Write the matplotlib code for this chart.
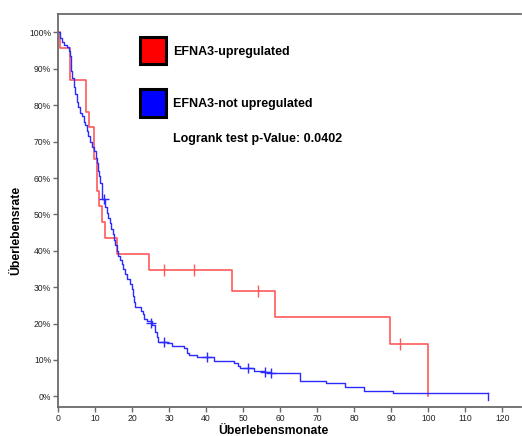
import matplotlib
matplotlib.use("Agg")
import matplotlib.pyplot as plt
from matplotlib.patches import Rectangle

# ---------------------------------------------------------------------------
# Data (months, survival in %)
# ---------------------------------------------------------------------------

# EFNA3-upregulated (red)
up_time = [0, 0.5, 3.2, 7.5, 8.4, 9.8, 10.6, 11.1, 12.0, 12.8, 16.0, 24.5,
           47.0, 58.6, 89.7, 99.8]
up_surv = [100, 95.65, 86.96, 78.26, 73.91, 65.22, 56.52, 52.17, 47.83,
           43.48, 39.13, 34.78, 28.99, 21.74, 14.49, 0]
up_cens_time = [28.5, 36.8, 53.9, 92.4]
up_cens_surv = [34.78, 34.78, 28.99, 14.49]

# EFNA3-not upregulated (blue)
not_time = [0, 0.6, 1.0, 1.5, 2.3, 2.9, 3.2, 3.4, 3.6, 3.9, 4.3, 4.6, 5.0,
            5.5, 6.0, 6.5, 6.9, 7.4, 7.8, 8.2, 8.6, 9.3, 9.8, 10.2, 10.5,
            10.8, 11.0, 11.4, 11.8, 12.0, 12.8, 13.2, 13.6, 14.0, 14.4, 14.8,
            15.1, 15.5, 15.9, 16.3, 16.8, 17.2, 17.6, 18.0, 18.6, 19.5, 19.9,
            20.2, 20.6, 20.9, 22.5, 23.0, 23.3, 24.0, 25.4, 26.2, 26.7, 27.1,
            29.5, 30.7, 33.9, 34.8, 35.3, 37.5, 42.0, 47.6, 48.5, 49.2, 52.8,
            55.6, 57.6, 65.2, 72.3, 77.6, 82.5, 90.5, 116.0]
not_surv = [100, 98.5, 97.5, 96.5, 96.0, 95.0, 93.5, 92.0, 89.5, 87.5, 85.0,
            83.0, 81.0, 79.5, 78.0, 77.0, 75.5, 74.5, 73.0, 71.5, 70.0, 68.5,
            67.5, 65.5, 64.0, 62.0, 60.5, 58.5, 57.0, 54.2, 52.0, 50.5, 49.0,
            47.5, 46.0, 44.5, 43.0, 41.5, 40.0, 38.5, 37.5, 36.5, 35.0, 33.5,
            32.3, 31.0, 29.5, 27.5, 26.0, 24.6, 23.5, 22.5, 21.2, 20.6, 19.6,
            17.8, 16.4, 15.0, 14.6, 13.9, 13.2, 11.8, 11.4, 10.7, 9.7, 9.1,
            8.3, 7.7, 7.0, 6.8, 6.3, 4.3, 3.6, 2.6, 1.5, 0.8, 0.8]
not_cens_time = [12.3, 25.1, 28.6, 40.2, 51.2, 55.8, 57.5]
not_cens_surv = [54.2, 20.1, 14.8, 10.7, 7.7, 6.8, 6.3]

x_ticks = list(range(0, 130, 10))
y_ticks = list(range(0, 110, 10))
y_tick_labels = [f"{v}%" for v in y_ticks]

RED = "#ff5a5a"
BLUE = "#2b2bff"
AXIS_GREY = "#6a6a6a"

plt.rcParams["font.family"] = ["Liberation Sans", "DejaVu Sans"]

fig = plt.figure(figsize=(5.22, 4.36), dpi=100)
ax = fig.add_axes([58 / 522, 1 - 406.7 / 436, 463 / 522, (406.7 - 14.3) / 436])

ax.plot(up_time, up_surv, drawstyle="steps-post", color=RED, lw=1.2)
ax.plot(up_cens_time, up_cens_surv, ls="none", marker="|", ms=8,
        mew=1.0, color=RED)

ax.plot(not_time, not_surv, drawstyle="steps-post", color=BLUE, lw=1.0)
ax.plot(not_cens_time, not_cens_surv, ls="none", marker="+", ms=7,
        mew=1.0, color=BLUE)
ax.plot([116.0, 116.0], [0.8, -0.9], color=BLUE, lw=1.0)

ax.set_xlim(0, 125)
ax.set_ylim(-2.86, 105)

ax.set_xticks(x_ticks)
ax.set_xticklabels([str(v) for v in x_ticks])
ax.set_yticks(y_ticks)
ax.set_yticklabels(y_tick_labels)
ax.tick_params(axis="both", direction="out", length=3.5, width=1.0,
               color=AXIS_GREY, labelsize=6.2, labelcolor="#222222", pad=1.5)

for side in ["left", "top", "bottom"]:
    ax.spines[side].set_color(AXIS_GREY)
    ax.spines[side].set_linewidth(1.3)
ax.spines["right"].set_visible(False)

# axis labels placed like the original
fig.text(273 / 522, 1 - 431 / 436, "Überlebensmonate", ha="center",
         va="center", fontsize=8.8, fontweight="bold")
fig.text(16 / 522, 1 - 230 / 436, "Überlebensrate", ha="center",
         va="center", rotation=90, fontsize=8.8, fontweight="bold")

# legend boxes and texts
fig.add_artist(Rectangle((139.5 / 522, 1 - 64.5 / 436), 26 / 522, 27 / 436,
                         transform=fig.transFigure, facecolor="red",
                         edgecolor="black", lw=2.2))
fig.add_artist(Rectangle((139.5 / 522, 1 - 117.0 / 436), 26 / 522, 28 / 436,
                         transform=fig.transFigure, facecolor="blue",
                         edgecolor="black", lw=2.2))
fig.text(173 / 522, 1 - 51.5 / 436, "EFNA3-upregulated", ha="left",
         va="center", fontsize=9, fontweight="bold")
fig.text(173 / 522, 1 - 103.5 / 436, "EFNA3-not upregulated", ha="left",
         va="center", fontsize=9, fontweight="bold")
fig.text(173 / 522, 1 - 139 / 436, "Logrank test p-Value: 0.0402", ha="left",
         va="center", fontsize=9, fontweight="bold")

fig.savefig("out.png", dpi=100)
